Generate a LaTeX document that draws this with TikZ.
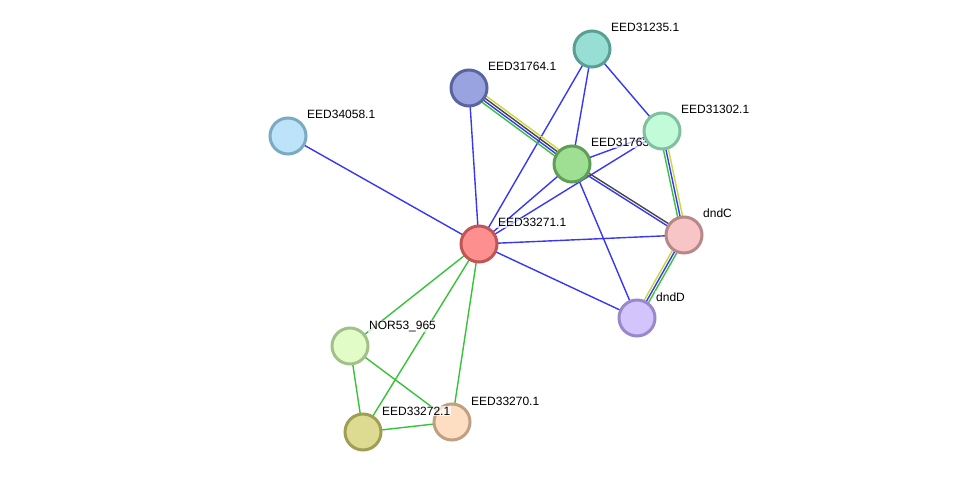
\documentclass[tikz,border=0pt]{standalone}
\usepackage{fontspec}
\setmainfont{Liberation Sans}
\usetikzlibrary{calc,backgrounds}

\definecolor{ecoocc}{RGB}{55,55,245}
\definecolor{eneigh}{RGB}{55,195,55}
\definecolor{etext}{RGB}{200,215,60}
\definecolor{ecoexp}{RGB}{70,70,70}

\newcommand{\pline}[4]{%
  \draw[edge, #1] ($(#3)!#2!90:(#4)$) -- ($(#4)!#2!-90:(#3)$);}

\begin{document}
\begin{tikzpicture}[x=1pt, y=-1pt,
    prot/.style={circle, draw, line width=3pt, minimum size=36pt, inner sep=0pt},
    lbl/.style={anchor=base west, font=\fontsize{12}{14}\selectfont, fill=white, fill opacity=0.7, text opacity=1, inner sep=1pt},
    edge/.style={line width=1.4pt}]
    \useasboundingbox (0,0) rectangle (976,478);

    % proteins
    \node[prot, fill={rgb,255:red,151;green,223;blue,212}, draw={rgb,255:red,90;green,158;blue,148}] (e31235) at (592,49) {};
    \node[lbl] (l31235) at (610,32) {EED31235.1};
    \node[prot, fill={rgb,255:red,152;green,163;blue,224}, draw={rgb,255:red,90;green,100;blue,160}] (e31764) at (469,88) {};
    \node[lbl] (l31764) at (487,71) {EED31764.1};
    \node[prot, fill={rgb,255:red,189;green,227;blue,248}, draw={rgb,255:red,122;green,170;blue,196}] (e34058) at (288,136) {};
    \node[lbl] (l34058) at (306,119) {EED34058.1};
    \node[prot, fill={rgb,255:red,159;green,223;blue,147}, draw={rgb,255:red,95;green,159;blue,85}] (e31763) at (572,164) {};
    \node[lbl] (l31763) at (590,147) {EED31763.1};
    \node[prot, fill={rgb,255:red,194;green,251;blue,216}, draw={rgb,255:red,128;green,192;blue,160}] (e31302) at (662,131) {};
    \node[lbl] (l31302) at (680,114) {EED31302.1};
    \node[prot, fill={rgb,255:red,247;green,197;blue,197}, draw={rgb,255:red,184;green,136;blue,136}] (dndC) at (684,235) {};
    \node[lbl] (ldndC) at (702,218) {dndC};
    \node[prot, fill={rgb,255:red,254;green,143;blue,143}, draw={rgb,255:red,192;green,85;blue,85}] (e33271) at (479,244) {};
    \node[lbl] (l33271) at (497,227) {EED33271.1};
    \node[prot, fill={rgb,255:red,212;green,196;blue,252}, draw={rgb,255:red,153;green,136;blue,204}] (dndD) at (637,318) {};
    \node[lbl] (ldndD) at (655,301) {dndD};
    \node[prot, fill={rgb,255:red,225;green,252;blue,199}, draw={rgb,255:red,164;green,192;blue,138}] (nor53) at (350,346) {};
    \node[lbl] (lnor53) at (368,329) {NOR53\_965};
    \node[prot, fill={rgb,255:red,253;green,222;blue,195}, draw={rgb,255:red,192;green,160;blue,128}] (e33270) at (452,422) {};
    \node[lbl] (l33270) at (470,405) {EED33270.1};
    \node[prot, fill={rgb,255:red,221;green,219;blue,145}, draw={rgb,255:red,160;green,158;blue,85}] (e33272) at (363,432) {};
    \node[lbl] (l33272) at (381,415) {EED33272.1};

    % interactions
    \begin{scope}[on background layer]
        \draw[edge, ecoocc] (e33271.center) -- (e34058.center);
        \draw[edge, ecoocc] (e33271.center) -- (e31764.center);
        \draw[edge, ecoocc] (e33271.center) -- (e31235.center);
        \draw[edge, ecoocc] (e33271.center) -- (e31763.center);
        \draw[edge, ecoocc] (e33271.center) -- (e31302.center);
        \draw[edge, ecoocc] (e33271.center) -- (dndC.center);
        \draw[edge, ecoocc] (e33271.center) -- (dndD.center);
        \draw[edge, ecoocc] (e31235.center) -- (e31763.center);
        \draw[edge, ecoocc] (e31235.center) -- (e31302.center);
        \draw[edge, ecoocc] (e31763.center) -- (e31302.center);
        \draw[edge, ecoocc] (e31763.center) -- (dndD.center);

        \pline{etext}{3.75pt}{e31764.center}{e31763.center}
        \pline{ecoexp}{1.25pt}{e31764.center}{e31763.center}
        \pline{ecoocc}{-1.25pt}{e31764.center}{e31763.center}
        \pline{eneigh}{-3.75pt}{e31764.center}{e31763.center}

        \pline{ecoexp}{1.25pt}{e31763.center}{dndC.center}
        \pline{ecoocc}{-1.25pt}{e31763.center}{dndC.center}

        \pline{etext}{2.5pt}{e31302.center}{dndC.center}
        \pline{ecoocc}{0pt}{e31302.center}{dndC.center}
        \pline{eneigh}{-2.5pt}{e31302.center}{dndC.center}

        \pline{eneigh}{2.5pt}{dndC.center}{dndD.center}
        \pline{ecoocc}{0pt}{dndC.center}{dndD.center}
        \pline{etext}{-2.5pt}{dndC.center}{dndD.center}

        \draw[edge, eneigh] (e33271.center) -- (nor53.center);
        \draw[edge, eneigh] (e33271.center) -- (e33272.center);
        \draw[edge, eneigh] (e33271.center) -- (e33270.center);
        \draw[edge, eneigh] (nor53.center) -- (e33272.center);
        \draw[edge, eneigh] (nor53.center) -- (e33270.center);
        \draw[edge, eneigh] (e33272.center) -- (e33270.center);
    \end{scope}
\end{tikzpicture}
\end{document}
